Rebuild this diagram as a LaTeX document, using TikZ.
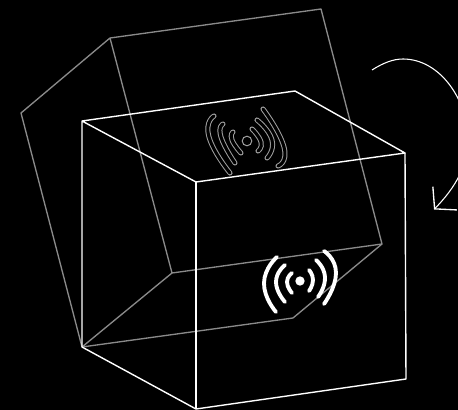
\documentclass[tikz,border=0pt]{standalone}
\usepackage{xcolor}
\usetikzlibrary{arrows.meta}
\definecolor{ghostgray}{HTML}{8A8A8A}
\definecolor{iconoutline}{HTML}{A0A0A0}
\tikzstyle{solidedge} = [white, line width=1.05pt, line join=round]
\tikzstyle{ghostedge} = [ghostgray, line width=1pt, line join=round]
\tikzstyle{boldwave} = [white, line width=2.9pt, line cap=round]
\tikzstyle{ghostwave} = [draw=iconoutline, line width=0.75pt, double=black, double distance=2.3pt, line cap=round]
\tikzstyle{spinarrow} = [white, line width=0.8pt]

\begin{document}
\begin{tikzpicture}[x=0.75pt, y=-0.75pt]

        \fill [black] (0,0) rectangle (458,410);
        \useasboundingbox (0,0) rectangle (458,410);

        % tilted box
        \coordinate (g_left) at (21,113);
        \coordinate (g_back) at (110,38);
        \coordinate (g_top) at (321,9);
        \coordinate (g_right) at (382,244);
        \coordinate (g_in) at (172,273);
        \coordinate (g_low) at (82,347);
        \coordinate (g_front) at (293,318);

        \draw [ghostedge] (g_low) -- (g_left) -- (g_back) -- (g_top) -- (g_right) -- (g_in) -- (g_back);
        \draw [ghostedge] (g_in) -- (g_low) -- (g_front) -- (g_right);

        % upright box
        \coordinate (w_a) at (82,121);
        \coordinate (w_b) at (295,91);
        \coordinate (w_c) at (405,153);
        \coordinate (w_d) at (196,182);
        \coordinate (w_e) at (82,347);
        \coordinate (w_f) at (196,409);
        \coordinate (w_g) at (406,379);

        \draw [solidedge] (w_e) -- (w_a) -- (w_b) -- (w_c) -- (w_d) -- (w_a);
        \draw [solidedge] (w_d) -- (w_f);
        \draw [solidedge] (w_e) -- (w_f) -- (w_g) -- (w_c);

        % signal on the lid
        \foreach \ax/\ay/\bx/\by/\cx/\cy in {214/116/209/137/230/173, 263/109/284/147/278/166,
                223/124/221/137/235/163, 257/120/272/140/267/158,
                233/132/232/140/241/153, 252/129/261/142/258/151}
            \draw [ghostwave] plot [smooth, tension=1] coordinates {(\ax,\ay) (\bx,\by) (\cx,\cy)};
        \node (lid_dot) [circle, draw=iconoutline, line width=0.75pt, minimum size=7.2pt, inner sep=0pt] at (247,141) {};

        % signal in front
        \foreach \ax/\ay/\bx/\by/\cx/\cy in {277/257/264/283/276/312, 324/251/336/273/324/304,
                285/265/276/282/285/302, 316/260/325/277/318/297,
                292/273/287/282/292/293, 309/270/313/280/309/291}
            \draw [boldwave] plot [smooth, tension=1] coordinates {(\ax,\ay) (\bx,\by) (\cx,\cy)};
        \node (front_dot) [circle, fill=white, minimum size=7pt, inner sep=0pt] at (300,281) {};

        % rotation
        \coordinate (spin_start) at (372,70);
        \coordinate (spin_top) at (403,59);
        \coordinate (spin_side) at (468,140);
        \coordinate (spin_end) at (434,209.5);

        \draw [spinarrow, -{Straight Barb[length=11pt, width=25pt, line width=1pt]}] (spin_start) .. controls (383,63) and (393,59) .. (spin_top)
            .. controls (440,59) and (468,100) .. (spin_side)
            .. controls (468,170) and (450,193) .. (spin_end);

\end{tikzpicture}
\end{document}
